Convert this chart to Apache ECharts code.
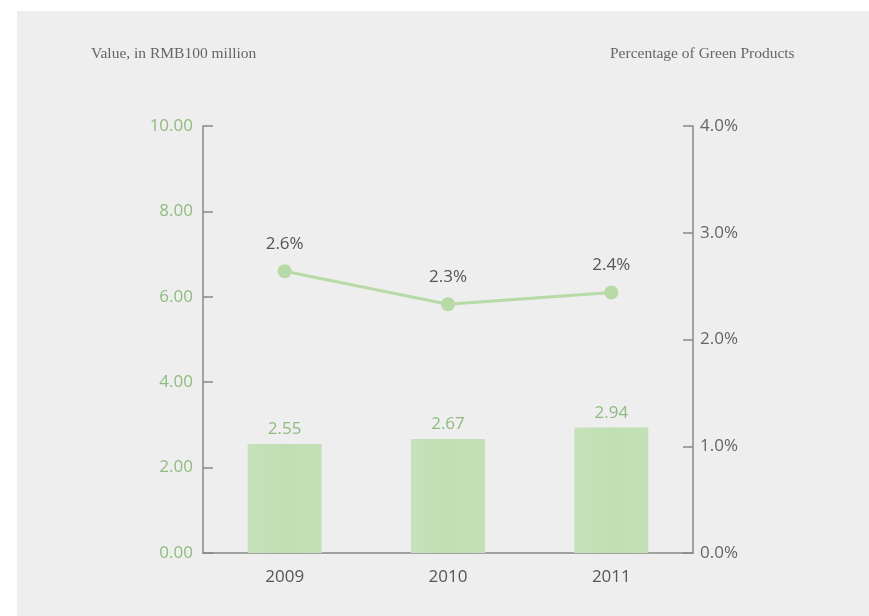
<!DOCTYPE html>
<html>
<head>
<meta charset="utf-8">
<title>Green Products</title>
<script src="https://cdn.jsdelivr.net/npm/echarts@6/dist/echarts.min.js"></script>
<style>
  html, body { margin: 0; padding: 0; background: #fff; }
  #chart { width: 869px; height: 616px; }
</style>
</head>
<body>
<div id="chart"></div>
<script>
'use strict';
// data
var years = ['2009', '2010', '2011'];
var salesValue = [2.55, 2.67, 2.94];      // RMB100 million
var greenShare = [2.64, 2.33, 2.44];      // percent

var numFont = '"Open Sans", "Noto Sans", sans-serif';
var serifFont = '"Liberation Serif", "DejaVu Serif", serif';

var myChart = echarts.init(document.getElementById('chart'));
var option = {
    backgroundColor: '#fff',
    animation: false,
    graphic: [
        {
            type: 'rect', z: -10, silent: true,
            shape: { x: 17, y: 11, width: 852, height: 605 },
            style: { fill: '#eeeeee' }
        },
        {
            type: 'text', left: 91, top: 46,
            style: { text: 'Value, in RMB100 million', font: '15.5px ' + serifFont, fill: '#666' }
        },
        {
            type: 'text', left: 610, top: 46,
            style: { text: 'Percentage of Green Products', font: '15.5px ' + serifFont, fill: '#666' }
        }
    ],
    grid: { left: 203, right: 176, top: 126, bottom: 63 },
    xAxis: {
        type: 'category',
        data: years,
        axisLine: { lineStyle: { color: '#888', width: 1.5 } },
        axisTick: { inside: true, length: 10, lineStyle: { color: '#888', width: 1.5 } },
        axisLabel: { color: '#555', fontSize: 17, fontFamily: numFont, margin: 16 }
    },
    yAxis: [
        {
            type: 'value', min: 0, max: 10, interval: 2,
            splitLine: { show: false },
            axisLine: { show: true, lineStyle: { color: '#888', width: 1.5 } },
            axisTick: { show: true, inside: true, length: 10, lineStyle: { color: '#888', width: 1.5 } },
            axisLabel: {
                color: '#8fbb80', fontSize: 17, fontFamily: numFont, margin: 10,
                formatter: function (v) { return v.toFixed(2); }
            }
        },
        {
            type: 'value', min: 0, max: 4, interval: 1,
            splitLine: { show: false },
            axisLine: { show: true, lineStyle: { color: '#888', width: 1.5 } },
            axisTick: { show: true, inside: true, length: 10, lineStyle: { color: '#888', width: 1.5 } },
            axisLabel: {
                color: '#666', fontSize: 17, fontFamily: numFont, margin: 7,
                formatter: function (v) { return v.toFixed(1) + '%'; }
            }
        }
    ],
    series: [
        {
            name: 'Value',
            type: 'bar',
            data: salesValue,
            barWidth: 74,
            itemStyle: {
                color: new echarts.graphic.LinearGradient(0, 0, 1, 0, [
                    { offset: 0, color: '#c6e2bb' },
                    { offset: 0.5, color: '#bfdfb2' },
                    { offset: 1, color: '#c3e1b7' }
                ])
            },
            label: {
                show: true, position: 'top', distance: 6,
                color: '#8fbb80', fontSize: 17, fontFamily: numFont,
                formatter: function (p) { return p.value.toFixed(2); }
            }
        },
        {
            name: 'Share',
            type: 'line',
            yAxisIndex: 1,
            data: greenShare,
            symbol: 'circle',
            symbolSize: 14,
            lineStyle: { color: '#b7daa6', width: 3 },
            itemStyle: { color: '#b7daa6' },
            label: {
                show: true, position: 'top', distance: 12,
                color: '#555', fontSize: 17, fontFamily: numFont,
                formatter: function (p) { return p.value.toFixed(1) + '%'; }
            }
        }
    ]
};
myChart.setOption(option);
</script>
</body>
</html>
